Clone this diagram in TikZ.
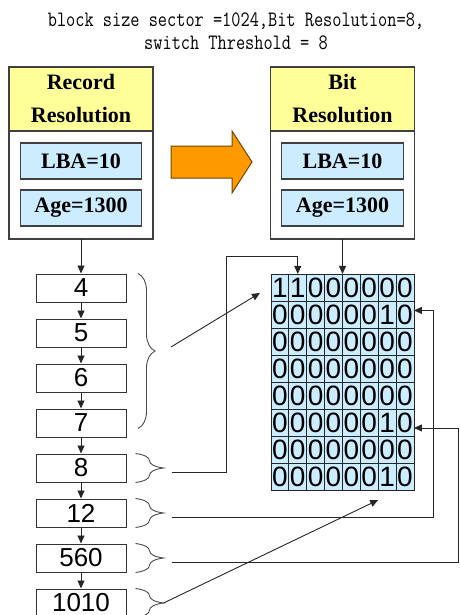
\documentclass[tikz,border=0pt]{standalone}
\usepackage{fontspec}
\setmainfont{Liberation Serif}
\setsansfont{Liberation Sans}
\newfontfamily\titlefont[FakeStretch=0.81]{Latin Modern Mono}
\usepackage{xcolor}
\usetikzlibrary{matrix,positioning,arrows.meta,decorations.pathreplacing}

\definecolor{headyellow}{HTML}{FFFF99}
\definecolor{cellblue}{HTML}{CCECFF}
\definecolor{arroworange}{HTML}{FF9900}
\definecolor{boxline}{HTML}{404040}

\begin{document}
\begin{tikzpicture}[x=1pt, y=-1pt,
    headbox/.style={draw=boxline, line width=1.3pt, fill=headyellow, minimum width=144pt, minimum height=64pt, inner sep=0pt, outer sep=0pt, align=center, font=\fontsize{22}{33}\selectfont\bfseries},
    bodybox/.style={draw=boxline, line width=1.3pt, fill=white, minimum width=144pt, minimum height=108pt, inner sep=0pt, outer sep=0pt},
    valbox/.style={draw=boxline, line width=1.3pt, fill=cellblue, minimum width=121.5pt, minimum height=36pt, inner sep=0pt, outer sep=0pt, font=\fontsize{22}{26}\selectfont\bfseries},
    sector/.style={draw=black!80, line width=1pt, minimum width=90pt, minimum height=28pt, inner sep=0pt, font=\sffamily\fontsize{26}{28}\selectfont},
    cell/.style={draw=black!85, line width=0.9pt, fill=cellblue, minimum width=17.875pt, minimum height=27pt, inner sep=0pt, outer sep=0pt, font=\sffamily\fontsize{28}{28}\selectfont},
    link/.style={draw=black!85, line width=0.9pt, -{Triangle[length=8pt,width=7pt]}},
    brace/.style={draw=black!70, line width=0.9pt, decorate, decoration={brace, amplitude=#1}}]
  \useasboundingbox (0,0) rectangle (459,615);

  % title
  \node[font=\titlefont\fontsize{22}{23}\selectfont, align=center] (title) at (236,31.5)
    {block size sector =1024,Bit Resolution=8,\\switch Threshold = 8};

  % record resolution box
  \node[headbox, anchor=north west] (rechead) at (9,67) {Record\\Resolution};
  \node[bodybox, below=0pt of rechead] (recbody) {};
  \node[valbox, below=12pt of rechead] (reclba) {LBA=10};
  \node[valbox, below=11pt of reclba] (recage) {Age=1300};

  % bit resolution box
  \node[headbox, anchor=north west] (bithead) at (270.5,67) {Bit\\Resolution};
  \node[bodybox, below=0pt of bithead] (bitbody) {};
  \node[valbox, below=12pt of bithead] (bitlba) {LBA=10};
  \node[valbox, below=11pt of bitlba] (bitage) {Age=1300};

  % orange arrow
  \draw[fill=arroworange, draw=black!55!arroworange, line width=1pt]
    (171,146) -- (232,146) -- (232,131) -- (252,162) -- (232,193) -- (232,178) -- (171,178) -- cycle;

  % sector chain
  \foreach \v [count=\i] in {4,5,6,7,8,12,560,1010}
    \node[sector] (s\v) at (81,{288+45*(\i-1)}) {\v};
  \draw[link] (recbody) -- (s4);
  \foreach \a/\b in {4/5,5/6,6/7,7/8,8/12,12/560,560/1010}
    \draw[link] (s\a) -- (s\b);

  % bitmap
  \matrix (bits) [matrix of nodes, anchor=north west, inner sep=0pt, outer sep=0pt,
                  column sep=-0.9pt, row sep=-0.9pt,
                  nodes={cell}, ampersand replacement=\&] at (270.5,273.5) {
    1 \& 1 \& 0 \& 0 \& 0 \& 0 \& 0 \& 0 \\
    0 \& 0 \& 0 \& 0 \& 0 \& 0 \& 1 \& 0 \\
    0 \& 0 \& 0 \& 0 \& 0 \& 0 \& 0 \& 0 \\
    0 \& 0 \& 0 \& 0 \& 0 \& 0 \& 0 \& 0 \\
    0 \& 0 \& 0 \& 0 \& 0 \& 0 \& 0 \& 0 \\
    0 \& 0 \& 0 \& 0 \& 0 \& 0 \& 1 \& 0 \\
    0 \& 0 \& 0 \& 0 \& 0 \& 0 \& 0 \& 0 \\
    0 \& 0 \& 0 \& 0 \& 0 \& 0 \& 1 \& 0 \\
  };
  \draw[link] (bitbody.south) -- (bitbody.south |- bits-1-1.north);

  % braces
  \draw[brace=17pt] ([xshift=11.5pt]s4.north east) -- ([xshift=11.5pt,yshift=9pt]s7.south east);
  \foreach \v in {8,12,560,1010}
    \draw[brace=28pt] ([xshift=9pt]s\v.north east) -- ([xshift=9pt]s\v.south east);

  % mapping lines
  \coordinate (t47) at (171,347);
  \coordinate (h47) at ([shift={(-11pt,-19pt)}]bits-1-1.north west);
  \draw[link] (t47) -- (h47);
  \draw[link] ([shift={(45pt,-4pt)}]s8.east) -| (226,256) -| (bits-1-2.north);
  \draw[link] ([shift={(45pt,-4pt)}]s12.east) -| ([shift={(19pt,4pt)}]bits-2-8.east) -- ([yshift=4pt]bits-2-8.east);
  \draw[link] ([shift={(45pt,-4pt)}]s560.east) -| ([shift={(44pt,-5.5pt)}]bits-6-8.east) -- ([yshift=-5.5pt]bits-6-8.east);
  \draw[link] ([xshift=37pt]s1010.east) -- ([shift={(0pt,-10pt)}]bits-8-6.south east);
\end{tikzpicture}
\end{document}
